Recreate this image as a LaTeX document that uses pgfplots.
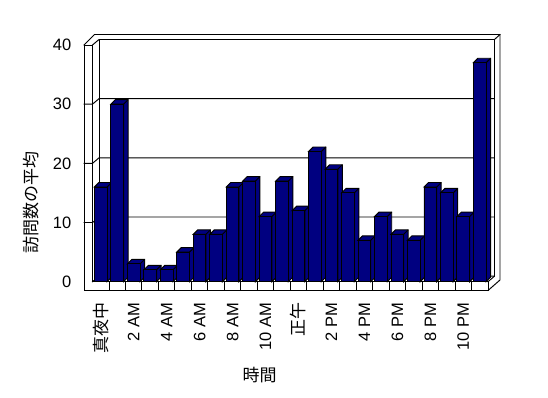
\documentclass[border=0pt]{standalone}
\usepackage{fontspec}
\setmainfont{Liberation Sans}
\newfontfamily\cjk{Noto Sans CJK JP}
\usepackage{pgfplots}
\pgfplotsset{compat=1.18}
\usepackage{pgfplotstable}
\definecolor{barblue}{RGB}{0,0,128}

\pgfplotstableread{
i v
0 16
1 30
2 3
3 2
4 2
5 5
6 8
7 8
8 16
9 17
10 11
11 17
12 12
13 22
14 19
15 15
16 7
17 11
18 8
19 7
20 16
21 15
22 11
23 37
}\datatable

% 3D extrusion (top face + side face) of a bar, drawn at the bar's top centre
\pgfdeclareplotmark{bar3d}{%
  \pgfmathsetmacro\barH{\barval*5.9175}%
  \pgfpathmoveto{\pgfqpoint{-6.35pt}{0pt}}%
  \pgfpathlineto{\pgfqpoint{-1.85pt}{4.5pt}}%
  \pgfpathlineto{\pgfqpoint{10.85pt}{4.5pt}}%
  \pgfpathlineto{\pgfpoint{10.85pt}{4.5pt-\barH pt}}%
  \pgfpathlineto{\pgfpoint{6.35pt}{-\barH pt}}%
  \pgfpathlineto{\pgfqpoint{6.35pt}{0pt}}%
  \pgfpathclose
  \pgfusepathqfillstroke
  \pgfpathmoveto{\pgfqpoint{6.35pt}{0pt}}%
  \pgfpathlineto{\pgfqpoint{10.85pt}{4.5pt}}%
  \pgfusepathqstroke
}

\begin{document}
\begin{tikzpicture}
\path[use as bounding box] (0,0) rectangle (548pt,398pt);

% walls and floor, in pixel coordinates (y downwards)
\begin{scope}[shift={(0pt,398pt)}, x=1pt, y=-1pt, line width=0.95pt, line cap=rect]
  % left wall slab front face + floor front strip (L shape)
  \draw (84,45) -- (84,290.5) -- (488,290.5) -- (488,281.7) -- (92.5,281.7) -- (92.5,45) -- cycle;
  % top of left wall and back wall
  \draw (84,45) -- (94.5,34.5) -- (500,34.5) -- (500,280) -- (488,290.5);
  \draw (92.5,45) -- (99,39.5) -- (494.5,39.5) -- (500,34.5);
  \draw (99,39.5) -- (99,276.2);
  \draw (494.5,39.5) -- (494.5,276.2) -- (488,281.7);
  % back wall bottom edge / floor back edge
  \draw (92.5,281.7) -- (99,276.2) -- (494.5,276.2);
  % gridlines
  \foreach \v in {10,20,30} {
    \pgfmathsetmacro\yy{281.7-\v*5.9175}
    \pgfmathsetmacro\yb{\yy-5.5}
    \draw (84,\yy) -- (92.5,\yy) -- (99,\yb) -- (494.5,\yb);
  }
  % floor strip category ticks
  \foreach \k in {1,...,23} {
    \pgfmathsetmacro\xx{92.5+\k*16.479}
    \draw (\xx,281.7) -- (\xx,290.5);
  }
\end{scope}

\begin{axis}[
  at={(92.5pt,116.3pt)}, anchor=south west,
  scale only axis, width=395.5pt, height=236.7pt,
  xmin=-0.5, xmax=23.5, ymin=0, ymax=40,
  clip=false, clip mode=individual,
  axis line style={draw=none},
  major tick length=0pt,
  xtick={0,2,...,22},
  xticklabels={{\cjk\fontsize{17}{19}\selectfont 真夜中},2 AM,4 AM,6 AM,8 AM,10 AM,{\cjk\fontsize{17}{19}\selectfont 正午},2 PM,4 PM,6 PM,8 PM,10 PM},
  ytick={0,10,20,30,40},
  /pgf/number format/assume math mode=true,
  tick label style={font=\fontsize{16.5}{19}\selectfont},
  xticklabel style={rotate=90, anchor=east, inner sep=0pt},
  yticklabel style={anchor=east, inner sep=0pt},
  xticklabel shift=21pt,
  yticklabel shift=21pt,
  xlabel={時間},
  ylabel={訪問数の平均},
  label style={font=\cjk\fontsize{17}{19}\selectfont},
  xlabel style={at={(axis description cs:0.4223,-0.394)}, anchor=center},
  ylabel style={at={(axis description cs:-0.1555,0.3367)}, anchor=center},
]
\addplot[scatter, only marks, mark=bar3d, line width=0.95pt,
  scatter/use mapped color={draw=black, fill=barblue},
  visualization depends on={\thisrow{v}\as\barval}]
  table[x=i, y=v] {\datatable};
\addplot[ybar, bar width=12.7pt, bar shift=0pt, fill=barblue, draw=black, line width=0.95pt]
  table[x=i, y=v] {\datatable};
\end{axis}
\end{tikzpicture}
\end{document}
